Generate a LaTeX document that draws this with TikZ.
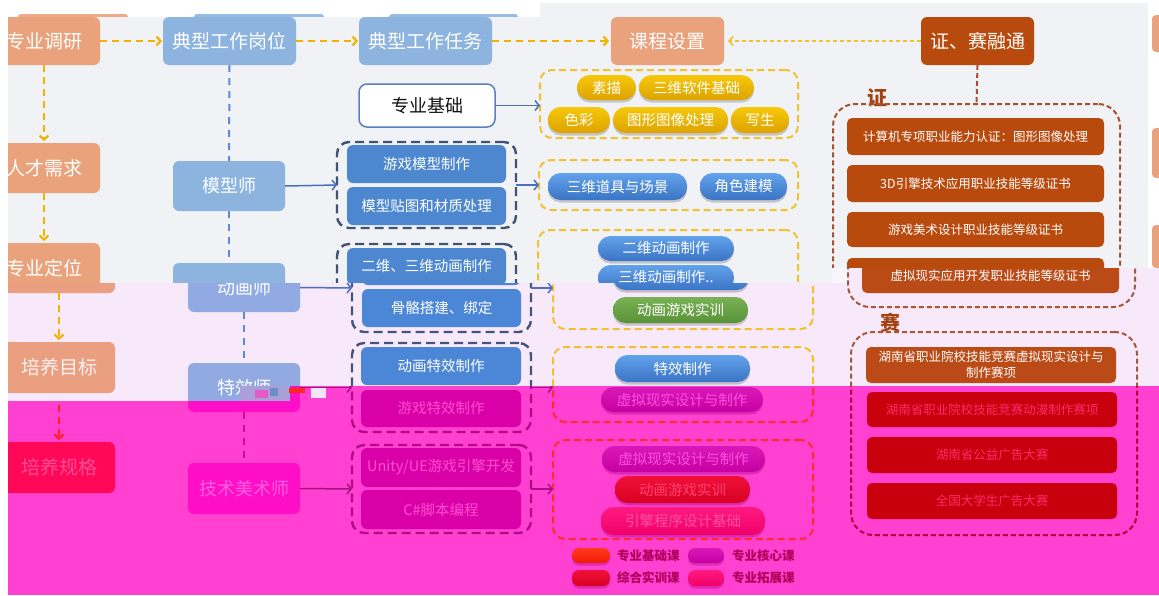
\documentclass[tikz,border=0pt]{standalone}
\usepackage{fontspec}
\setmainfont{Noto Sans CJK SC}
\usetikzlibrary{arrows.meta,shadows}

\newcommand\mybx[7]{\node[#1,minimum width={((#5)-(#3))*1pt},minimum height={((#6)-(#4))*1pt}] (#2) at ({((#3)+(#5))/2},{((#4)+(#6))/2}) {#7};}

\newcommand\palTop{%
\definecolor{bgc}{HTML}{F0F2F6}%
\definecolor{orc}{HTML}{E9A27C}\definecolor{ortx}{HTML}{FFFFFF}%
\definecolor{lbc}{HTML}{8DB4DF}\definecolor{lbtx}{HTML}{FFFFFF}%
\definecolor{ibc}{HTML}{4C87D0}\definecolor{ibtx}{HTML}{FFFFFF}%
\definecolor{grc}{HTML}{3F5473}%
\definecolor{ydc}{HTML}{F2C12E}\definecolor{yac}{HTML}{F0B400}%
\definecolor{bdc}{HTML}{5B8BD2}\definecolor{bac}{HTML}{4A6EC0}%
\definecolor{gpt}{HTML}{F6C80A}\definecolor{gpb}{HTML}{DDA200}\definecolor{gptx}{HTML}{FFFFFF}%
\definecolor{bpt}{HTML}{62A2EA}\definecolor{bpb}{HTML}{3B74C6}\definecolor{bptx}{HTML}{FFFFFF}%
\definecolor{npt}{HTML}{80BC5E}\definecolor{npb}{HTML}{5B963A}\definecolor{nptx}{HTML}{FFFFFF}%
\definecolor{ppt}{HTML}{A070C8}\definecolor{ppb}{HTML}{7E4CA8}\definecolor{pptx}{HTML}{FFFFFF}%
\definecolor{brc}{HTML}{B94A0E}\definecolor{brtx}{HTML}{FFFFFF}%
\definecolor{brd}{HTML}{A5532E}\definecolor{lbl}{HTML}{A3420F}\definecolor{lgt}{HTML}{333333}%
\definecolor{jbd}{HTML}{5B7FC0}\definecolor{jbf}{HTML}{FFFFFF}\definecolor{jbt}{HTML}{111111}%
\definecolor{shc}{HTML}{606060}%
}
\newcommand\palPink{%
\palTop
\definecolor{bgc}{HTML}{F7E8FA}%
\definecolor{orc}{HTML}{EAA080}\definecolor{ortx}{HTML}{FDF0F4}%
\definecolor{lbc}{HTML}{92AAE2}%
\definecolor{ibc}{HTML}{4C86D6}%
\definecolor{grc}{HTML}{44547A}%
\definecolor{npt}{HTML}{78B254}\definecolor{npb}{HTML}{5A9238}%
\definecolor{brc}{HTML}{BB4B16}\definecolor{brd}{HTML}{A4583A}%
}
\newcommand\palMag{%
\palTop
\definecolor{bgc}{HTML}{FF40D0}%
\definecolor{orc}{HTML}{FF0858}\definecolor{ortx}{HTML}{FF4C95}%
\definecolor{lbc}{HTML}{FF0EC8}\definecolor{lbtx}{HTML}{FF5EE0}%
\definecolor{ibc}{HTML}{DA00A8}\definecolor{ibtx}{HTML}{FF4DD0}%
\definecolor{grc}{HTML}{B00C88}%
\definecolor{ydc}{HTML}{FF2A2A}\definecolor{yac}{HTML}{FF2020}%
\definecolor{bdc}{HTML}{C2109C}\definecolor{bac}{HTML}{A8108A}%
\definecolor{gpt}{HTML}{FF3A1A}\definecolor{gpb}{HTML}{F01A08}\definecolor{gptx}{HTML}{FF7050}%
\definecolor{bpt}{HTML}{DA18B8}\definecolor{bpb}{HTML}{C600A2}\definecolor{bptx}{HTML}{FF50E0}%
\definecolor{npt}{HTML}{F0103A}\definecolor{npb}{HTML}{D80022}\definecolor{nptx}{HTML}{FF4070}%
\definecolor{ppt}{HTML}{FF1A80}\definecolor{ppb}{HTML}{F0006A}\definecolor{pptx}{HTML}{FF50A0}%
\definecolor{brc}{HTML}{C8000E}\definecolor{brtx}{HTML}{FF2A66}%
\definecolor{brd}{HTML}{B4003C}\definecolor{lbl}{HTML}{C0004A}\definecolor{lgt}{HTML}{B0005A}%
\definecolor{shc}{HTML}{900070}%
}

\tikzset{
 base/.style={inner sep=0pt,outer sep=0pt},
 obox/.style={base,fill=orc,text=ortx,rounded corners=6pt,font=\fontsize{19pt}{19pt}\selectfont},
 lbbox/.style={base,fill=lbc,text=lbtx,rounded corners=6pt,font=\fontsize{19pt}{19pt}\selectfont},
 jobbox/.style={lbbox,font=\fontsize{18pt}{18pt}\selectfont},
 brhead/.style={base,fill=brc,text=brtx,rounded corners=6pt,font=\fontsize{19pt}{19pt}\selectfont},
 jbbox/.style={base,draw=jbd,line width=1.5pt,fill=jbf,text=jbt,rounded corners=8pt,font=\fontsize{18pt}{18pt}\selectfont},
 ibox/.style={base,fill=ibc,text=ibtx,rounded corners=6pt,font=\fontsize{14.5pt}{14.5pt}\selectfont},
 brbox/.style={base,fill=brc,text=brtx,rounded corners=5pt,font=\fontsize{12.5pt}{16pt}\selectfont,align=center},
 ygrp/.style={base,draw=ydc,line width=2pt,dash pattern=on 7pt off 4pt,rounded corners=12pt},
 dgrp/.style={base,draw=grc,line width=2.4pt,dash pattern=on 9pt off 5pt,rounded corners=12pt},
 brgrp/.style={base,draw=brd,line width=2pt,dash pattern=on 5pt off 3pt,rounded corners=22pt},
 pill/.style={base,rounded corners=12.5pt,font=\fontsize{14.5pt}{14.5pt}\selectfont,drop shadow={shadow xshift=0pt,shadow yshift=-2.5pt,opacity=0.3,fill=shc}},
 lpill/.style={pill,rounded corners=7pt},
 pillG/.style={top color=gpt,bottom color=gpb,text=gptx},
 pillB/.style={top color=bpt,bottom color=bpb,text=bptx},
 pillN/.style={top color=npt,bottom color=npb,text=nptx},
 pillP/.style={top color=ppt,bottom color=ppb,text=pptx},
 harrow/.style={draw=yac,line width=2.2pt,dash pattern=on 7pt off 5pt,-{Straight Barb[length=4pt,width=9pt]}},
 harrowb/.style={draw=ydc,line width=1.6pt,dash pattern=on 4pt off 3pt,-{Straight Barb[length=4pt,width=9pt]}},
 yarrow/.style={draw=yac,line width=2.2pt,dash pattern=on 7pt off 5pt,-{Straight Barb[length=4pt,width=9pt]}},
 barrow/.style={draw=bac,line width=1.5pt,-{Straight Barb[length=4pt,width=10pt]}},
 bdash/.style={draw=bdc,line width=2pt,dash pattern=on 7pt off 6pt},
 brdash/.style={draw=brd,line width=2pt,dash pattern=on 5pt off 3pt},
 lblstyle/.style={base,text=lbl,font=\fontsize{20pt}{20pt}\selectfont\bfseries},
 lgtext/.style={base,anchor=west,text=lgt,font=\fontsize{12.5pt}{12.5pt}\selectfont\bfseries},
}

% ---------- top layer (original position) ----------
\newcommand\layerTop{%
\mybx{obox}{zydy}{-12}{17}{100}{65}{专业调研}
\mybx{obox}{rcxq}{-12}{143}{100}{193}{人才需求}
\mybx{obox}{zydw}{-12}{243}{100}{293}{专业定位}
\draw[yarrow,shorten >=2pt] (zydy.south) -- (rcxq.north);
\draw[yarrow,shorten >=2pt] (rcxq.south) -- (zydw.north);
\mybx{lbbox}{gwgw}{163}{17}{296}{65}{典型工作岗位}
\mybx{lbbox}{gzrw}{359}{17}{492}{65}{典型工作任务}
\mybx{obox}{kcsz}{611}{17}{724}{65}{课程设置}
\mybx{brhead}{zsrt}{921}{17}{1034}{65}{证、赛融通}
\draw[harrow,shorten >=1pt] (zydy.east) -- (gwgw.west);
\draw[harrow,shorten >=1pt] (gwgw.east) -- (gzrw.west);
\draw[harrow,shorten >=2pt] (gzrw.east) -- (kcsz.west);
\draw[harrowb,shorten >=4pt] (zsrt.west) -- (kcsz.east);
\mybx{ygrp}{yga}{540}{70}{798}{138}{}
\mybx{ygrp}{ygb}{539}{160}{798}{210}{}
\mybx{ygrp}{ygc}{538}{230}{798}{329}{}
\mybx{jbbox}{zyjc}{359}{84}{495}{127}{专业基础}
\draw[barrow] (zyjc.east) -- (zyjc.east -| yga.west);
\mybx{pill,pillG}{p1}{577}{75}{636}{100}{素描}
\mybx{pill,pillG}{p2}{639}{75}{754}{100}{三维软件基础}
\mybx{pill,pillG}{p3}{548}{107}{610}{133}{色彩}
\mybx{pill,pillG}{p4}{613}{107}{728}{133}{图形图像处理}
\mybx{pill,pillG}{p5}{731}{107}{789}{133}{写生}
\mybx{pill,pillB}{p6}{548}{173}{687}{200}{三维道具与场景}
\mybx{pill,pillB}{p7}{700}{173}{787}{200}{角色建模}
\mybx{pill,pillB}{p8}{598}{236}{734}{261}{二维动画制作}
\mybx{pill,pillB}{p9}{598}{265}{734}{290}{三维动画制作..}
\mybx{jobbox}{mxs}{173}{161}{285}{211}{模型师}
\mybx{jobbox}{dhs}{173}{263}{285}{312}{}
\draw[bdash] (gwgw.south) -- (mxs.north);
\draw[bdash] (mxs.south) -- (dhs.north);
\mybx{dgrp}{ga}{337}{142}{516}{228}{}
\mybx{dgrp}{gb}{337}{244}{516}{332}{}
\mybx{ibox}{i1}{347}{145}{506}{183}{游戏模型制作}
\mybx{ibox}{i2}{347}{187}{506}{225}{模型贴图和材质处理}
\mybx{ibox}{i3}{347}{248}{506}{285}{二维、三维动画制作}
\draw[barrow] (mxs.east) -- (ga.west);
\draw[barrow] (dhs.east) -- (gb.west);
\draw[barrow] (ga.east) -- (ga.east -| ygb.west);
\draw[barrow] (gb.east) -- (gb.east -| ygc.west);
\node[lblstyle] (zlab) at (877,98) {证};
\mybx{brgrp}{zg}{833}{104}{1120}{307}{}
\draw[brdash] (zsrt.south) -- (zg.north);
\mybx{brbox}{c1}{847}{118}{1104}{155}{计算机专项职业能力认证：图形图像处理}
\mybx{brbox}{c2}{847}{165}{1104}{202}{3D引擎技术应用职业技能等级证书}
\mybx{brbox}{c3}{847}{212}{1104}{247}{游戏美术设计职业技能等级证书}
\mybx{brbox}{c4}{847}{258}{1104}{293}{}
}

% ---------- light pink band (shifted) ----------
\newcommand\layerPink{%
\mybx{obox}{zydw}{-12}{243}{100}{293}{}
\mybx{obox}{pymb}{-12}{342}{100}{393}{培养目标}
\draw[yarrow,shorten >=2pt] (zydw.south) -- (pymb.north);
\mybx{jobbox}{dhs}{173}{263}{285}{312}{动画师}
\mybx{jobbox}{txs}{173}{363}{285}{412}{特效师}
\draw[bdash] (dhs.south) -- (txs.north);
\mybx{ygrp}{ygc}{538}{230}{798}{329}{}
\mybx{ygrp}{ygd}{538}{347}{798}{422}{}
\mybx{dgrp}{gb}{337}{244}{516}{332}{}
\mybx{dgrp}{gc}{337}{343}{516}{432}{}
\mybx{ibox}{i3}{347}{248}{506}{285}{}
\mybx{ibox}{i4}{347}{289}{506}{327}{骨骼搭建、绑定}
\mybx{ibox}{i5}{346}{347}{506}{385}{动画特效制作}
\draw[barrow] (dhs.east) -- (gb.west);
\draw[barrow] (gb.east) -- (gb.east -| ygc.west);
\mybx{pill,pillB}{p9}{598}{265}{734}{290}{}
\mybx{pill,pillN}{p10}{598}{297}{733}{323}{动画游戏实训}
\mybx{pill,pillB}{p11}{600}{355}{735}{382}{特效制作}
\mybx{brgrp}{zg}{833}{104}{1120}{307}{}
\mybx{brbox}{c4}{847}{258}{1104}{293}{虚拟现实应用开发职业技能等级证书}
\node[lblstyle] (slab) at (875,323) {赛};
\mybx{brgrp}{sg}{836}{332}{1122}{535}{}
\mybx{brbox}{s1}{851}{347}{1101}{383}{湖南省职业院校技能竞赛虚拟现实设计与\\制作赛项}
}

% ---------- magenta band (shifted) ----------
\newcommand\layerMag{%
\coordinate (pymbS) at (44,393);
\mybx{obox}{pygg}{-12}{442}{100}{493}{培养规格}
\draw[yarrow,shorten >=2pt] (pymbS) -- (pygg.north);
\mybx{jobbox}{txs}{173}{363}{285}{412}{}
\mybx{jobbox}{jsms}{173}{463}{285}{514}{技术美术师}
\draw[bdash] (txs.south) -- (jsms.north);
\mybx{dgrp}{gc}{337}{343}{516}{432}{}
\mybx{dgrp}{gd}{337}{445}{516}{533}{}
\mybx{ygrp}{ygd}{538}{347}{798}{422}{}
\mybx{ygrp}{yge}{538}{440}{798}{539}{}
\mybx{ibox}{i6}{346}{390}{506}{427}{游戏特效制作}
\mybx{ibox}{i7}{346}{448}{506}{487}{Unity/UE游戏引擎开发}
\mybx{ibox}{i8}{346}{490}{506}{529}{C\#脚本编程}
\draw[barrow] (txs.east) -- (gc.west);
\draw[barrow] (jsms.east) -- (gd.west);
\draw[barrow] (gc.east) -- (gc.east -| ygd.west);
\draw[barrow] (gd.east) -- (gd.east -| yge.west);
\mybx{pill,pillB}{p12}{586}{387}{748}{412}{虚拟现实设计与制作}
\mybx{pill,pillB}{p13}{587}{446}{750}{472}{虚拟现实设计与制作}
\mybx{pill,pillN}{p14}{600}{476}{735}{503}{动画游戏实训}
\mybx{pill,pillP}{p15}{586}{507}{750}{535}{引擎程序设计基础}
\mybx{lpill,pillG}{l1}{557}{548}{595}{563}{}
\mybx{lpill,pillB}{l2}{673}{548}{709}{563}{}
\mybx{lpill,pillN}{l3}{557}{570}{595}{586}{}
\mybx{lpill,pillP}{l4}{673}{570}{709}{586}{}
\node[lgtext] (t1) at (602,555.5) {专业基础课};
\node[lgtext] (t2) at (717,555.5) {专业核心课};
\node[lgtext] (t3) at (602,578) {综合实训课};
\node[lgtext] (t4) at (717,578) {专业拓展课};
\mybx{brgrp}{sg}{836}{332}{1122}{535}{}
\mybx{brbox}{s2}{852}{392}{1102}{427}{湖南省职业院校技能竞赛动漫制作赛项}
\mybx{brbox}{s3}{852}{437}{1102}{473}{湖南省公益广告大赛}
\mybx{brbox}{s4}{852}{483}{1102}{519}{全国大学生广告大赛}
}

\begin{document}
\begin{tikzpicture}[x=1pt,y=-1pt]
\useasboundingbox (0,0) rectangle (1159,595);
\fill[white] (0,0) rectangle (1159,595);
% ghost tops in the white strip
\fill[fill={rgb,255:red,236;green,170;blue,136},rounded corners=3pt] (18,14) rectangle (128,20);
\fill[fill={rgb,255:red,150;green,188;blue,228},rounded corners=3pt] (194,14) rectangle (324,20);
\fill[fill={rgb,255:red,150;green,188;blue,228},rounded corners=3pt] (389,14) rectangle (518,20);
% right edge tabs
\fill[fill={rgb,255:red,233;green,162;blue,124},rounded corners=4pt] (1152,15) rectangle (1170,52);
\fill[fill={rgb,255:red,233;green,162;blue,124},rounded corners=4pt] (1152,128) rectangle (1170,178);
\fill[fill={rgb,255:red,233;green,162;blue,124},rounded corners=4pt] (1152,225) rectangle (1170,268);
% top layer
\begin{scope}
\clip (8,0) -- (1148,0) -- (1148,268) -- (832,268) -- (832,283) -- (8,283) -- cycle;
\palTop
\fill[bgc] (8,17) -- (540,17) -- (540,3) -- (1148,3) -- (1148,283) -- (8,283) -- cycle;
\layerTop
\end{scope}
% light pink band
\begin{scope}
\clip (8,283) -- (832,283) -- (832,268) -- (1159,268) -- (1159,386) -- (290,386) -- (290,401) -- (8,401) -- cycle;
\palPink
\fill[bgc] (0,260) rectangle (1159,410);
\begin{scope}[xshift=15pt]
\layerPink
\end{scope}
\end{scope}
% magenta band
\begin{scope}
\clip (8,401) -- (290,401) -- (290,386) -- (1159,386) -- (1159,595) -- (8,595) -- cycle;
\palMag
\fill[bgc] (0,380) rectangle (1159,595);
\begin{scope}[xshift=15pt]
\layerMag
\end{scope}
\end{scope}
% glitch patches
\fill[fill={rgb,255:red,170;green,160;blue,216}] (240,386) rectangle (289,401);
\fill[fill={rgb,255:red,230;green,90;blue,200}] (255,390) rectangle (268,398);
\fill[fill={rgb,255:red,110;green,140;blue,200}] (270,388) rectangle (278,396);
\fill[fill={rgb,255:red,255;green,40;blue,30}] (289,388) rectangle (305,393);
\fill[fill={rgb,255:red,240;green,230;blue,245}] (311,388) rectangle (326,398);
\fill[fill={rgb,255:red,245;green,245;blue,250}] (832,268) rectangle (847,283);
\end{tikzpicture}
\end{document}
